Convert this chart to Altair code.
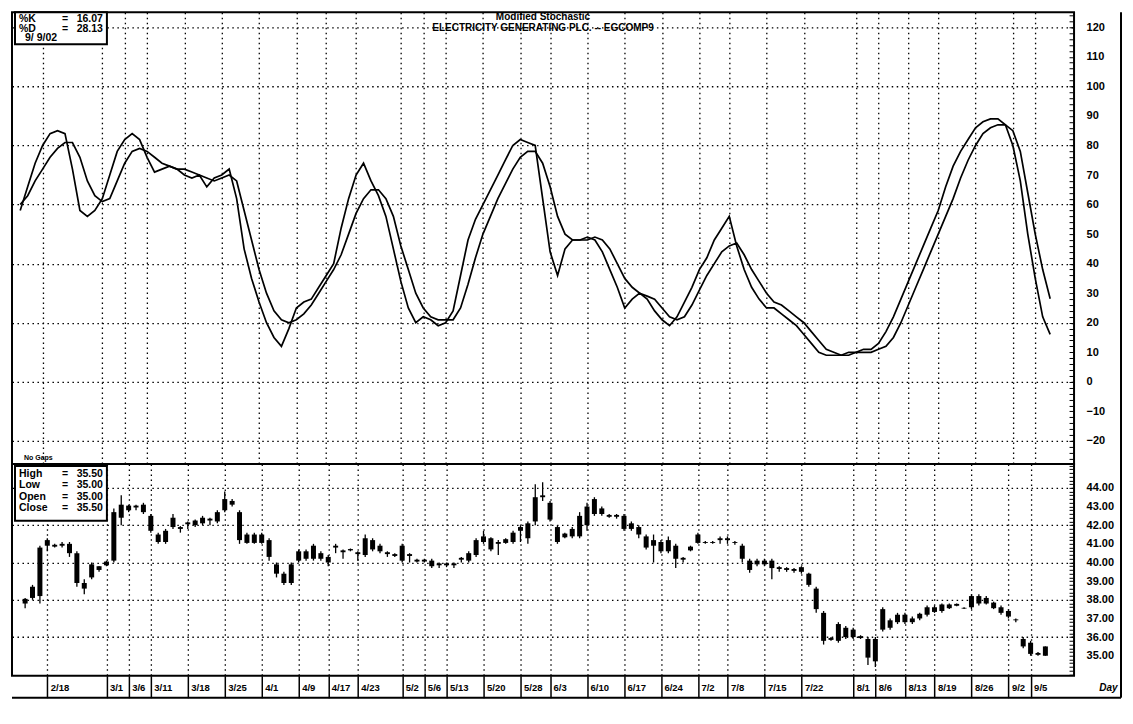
import altair as alt
import pandas as pd

# ---------------- data ----------------
label_dates = ["2/18", "3/1", "3/6", "3/11", "3/18", "3/25", "4/1", "4/9", "4/17", "4/23",
               "5/2", "5/6", "5/13", "5/20", "5/28", "6/3", "6/10", "6/17", "6/24", "7/2",
               "7/8", "7/15", "7/22", "8/1", "8/6", "8/13", "8/19", "8/26", "9/2", "9/5"]
label_pos = [3, 11, 14, 17, 22, 27, 32, 37, 41, 45,
             51, 54, 57, 62, 67, 71, 76, 81, 86, 91,
             95, 100, 105, 112, 115, 119, 123, 128, 133, 136]

k_vals = [58, 66, 74, 80, 84, 85, 84, 72, 58, 56,
          58, 62, 70, 78, 82, 84, 82, 76, 71, 72,
          73, 72, 70, 69, 70, 66, 69, 70, 72, 62,
          45, 35, 27, 20, 15, 12, 18, 25, 27, 28,
          32, 36, 40, 52, 62, 70, 74, 68, 63, 56,
          45, 34, 25, 20, 22, 21, 19, 20, 24, 36,
          48, 55, 60, 65, 70, 75, 80, 82, 81, 80,
          62, 44, 36, 45, 48, 48, 49, 48, 44, 38,
          32, 25, 28, 30, 28, 24, 21, 19, 22, 27,
          32, 38, 42, 48, 52, 56, 46, 38, 32, 28,
          25, 25, 23, 21, 19, 16, 13, 10, 9, 9,
          9, 10, 10, 11, 11, 13, 17, 22, 28, 34,
          40, 46, 52, 58, 66, 73, 78, 82, 86, 88,
          89, 89, 87, 80, 68, 50, 35, 22, 16.07]

d_vals = [60, 63, 68, 72, 76, 79, 81, 81, 76, 68,
          63, 61, 62, 68, 74, 78, 79, 78, 76, 74,
          73, 72, 72, 71, 70, 69, 68, 69, 70, 68,
          58, 48, 38, 30, 24, 21, 20, 21, 23, 26,
          30, 34, 38, 43, 50, 57, 62, 65, 65, 62,
          56, 46, 38, 30, 25, 22, 21, 21, 21, 25,
          33, 42, 50, 56, 62, 67, 72, 76, 78, 78,
          74, 66, 56, 50, 48, 48, 48, 49, 48, 45,
          40, 35, 32, 30, 29, 28, 25, 22, 21, 22,
          26, 31, 36, 40, 44, 46, 47, 43, 38, 34,
          30, 27, 26, 24, 22, 20, 17, 14, 11, 10,
          9, 9, 10, 10, 10, 11, 12, 15, 20, 26,
          32, 38, 44, 50, 56, 62, 69, 75, 80, 84,
          86, 87, 87, 85, 78, 64, 50, 38, 28.13]

high = [38.1, 38.8, 40.9, 41.3, 41.0, 41.1, 41.1, 40.6, 39.1, 40.0,
        39.8, 40.1, 42.9, 43.6, 43.1, 43.1, 43.2, 42.6, 41.6, 41.8,
        42.6, 41.95, 42.2, 42.3, 42.5, 42.4, 42.8, 43.8, 43.4, 42.8,
        41.6, 41.6, 41.6, 41.3, 40.0, 39.5, 40.0, 40.7, 40.7, 41.0,
        40.6, 40.4, 41.0, 40.7, 40.75, 40.6, 41.5, 41.3, 41.0, 40.6,
        40.5, 41.0, 40.5, 40.2, 40.2, 40.2, 40.0, 40.0, 40.0, 40.3,
        40.6, 41.3, 41.7, 41.35, 41.2, 41.3, 41.7, 42.0, 42.2, 44.2,
        44.3, 43.3, 42.0, 41.6, 41.9, 42.7, 43.2, 43.5, 43.0, 42.6,
        42.6, 42.6, 42.2, 42.0, 41.5, 41.5, 41.2, 41.4, 41.0, 40.3,
        40.9, 41.6, 41.15, 41.15, 41.4, 41.4, 41.15, 41.0, 40.2, 40.2,
        40.2, 40.2, 39.8, 39.75, 39.7, 39.8, 39.45, 38.7, 37.4, 36.0,
        36.8, 36.6, 36.5, 36.1, 36.0, 36.0, 37.6, 37.0, 37.3, 37.3,
        37.1, 37.3, 37.7, 37.7, 37.8, 37.8, 37.8, 37.6, 38.3, 38.3,
        38.2, 37.9, 37.7, 37.5, 37.0, 36.0, 35.8, 35.2, 35.5]

low = [37.55, 38.0, 37.8, 40.6, 40.8, 40.8, 40.3, 38.7, 38.3, 39.1,
       39.5, 39.8, 40.0, 42.0, 42.7, 42.8, 42.6, 41.6, 41.0, 41.0,
       41.8, 41.6, 41.8, 41.9, 42.0, 42.0, 42.1, 42.7, 43.0, 41.0,
       41.0, 41.0, 41.0, 40.1, 39.2, 38.8, 38.8, 40.0, 40.1, 40.1,
       40.1, 39.8, 40.5, 40.2, 40.6, 40.1, 40.3, 40.6, 40.5, 40.3,
       40.3, 40.0, 40.0, 40.0, 40.0, 39.7, 39.7, 39.75, 39.7, 40.0,
       40.0, 40.3, 41.0, 40.6, 40.4, 41.0, 41.0, 41.1, 41.0, 42.0,
       43.3, 42.2, 41.0, 41.3, 41.3, 41.3, 41.7, 42.5, 42.5, 42.4,
       42.35, 41.7, 41.7, 41.3, 40.7, 40.0, 40.5, 40.5, 39.7, 40.0,
       40.6, 41.0, 41.0, 41.0, 41.0, 41.0, 40.95, 40.0, 39.45, 39.8,
       39.8, 39.1, 39.5, 39.5, 39.45, 39.4, 38.7, 37.3, 35.6, 35.8,
       35.7, 35.9, 35.9, 35.9, 34.5, 34.4, 36.3, 36.4, 36.7, 36.7,
       36.7, 36.9, 37.1, 37.3, 37.3, 37.5, 37.65, 37.5, 37.5, 37.7,
       37.75, 37.5, 37.2, 37.0, 36.8, 35.4, 35.0, 35.0, 35.0]

open_ = [38.05, 38.1, 38.2, 41.2, 40.95, 41.0, 41.0, 40.5, 38.6, 39.2,
         39.6, 39.85, 40.1, 42.4, 42.8, 43.05, 42.7, 42.5, 41.5, 41.1,
         41.9, 41.9, 42.15, 42.0, 42.1, 42.35, 42.2, 42.8, 43.3, 42.7,
         41.5, 41.05, 41.5, 41.2, 39.9, 39.4, 38.9, 40.1, 40.6, 40.2,
         40.5, 40.3, 40.9, 40.65, 40.72, 40.55, 40.4, 41.2, 40.9, 40.55,
         40.45, 40.9, 40.45, 40.15, 40.05, 40.1, 39.95, 39.95, 39.95, 40.25,
         40.1, 40.4, 41.4, 41.3, 41.1, 41.05, 41.1, 41.7, 41.3, 42.2,
         43.6, 43.2, 41.9, 41.35, 41.4, 41.4, 42.0, 43.4, 42.9, 42.55,
         42.55, 42.5, 42.1, 41.9, 41.4, 41.2, 41.1, 40.6, 40.9, 40.25,
         40.65, 41.05, 41.1, 41.1, 41.3, 41.3, 41.1, 40.9, 40.1, 40.1,
         39.9, 40.1, 39.75, 39.7, 39.65, 39.75, 39.4, 38.6, 37.3, 35.95,
         35.8, 36.5, 36.0, 36.05, 35.9, 34.7, 36.4, 36.9, 36.8, 37.2,
         37.0, 37.0, 37.2, 37.6, 37.4, 37.55, 37.68, 37.53, 37.6, 38.2,
         37.8, 37.85, 37.6, 37.4, 36.95, 35.9, 35.7, 35.15, 35.0]

close = [37.8, 38.7, 40.8, 40.9, 40.85, 40.9, 40.5, 38.9, 38.9, 39.9,
         39.8, 40.05, 42.7, 43.1, 43.05, 42.95, 43.1, 41.7, 41.1, 41.7,
         42.4, 41.8, 42.05, 42.25, 42.4, 42.25, 42.7, 43.4, 43.1, 41.2,
         41.05, 41.5, 41.05, 40.3, 39.4, 38.9, 39.9, 40.6, 40.2, 40.9,
         40.2, 40.0, 40.8, 40.55, 40.65, 40.45, 41.3, 40.7, 40.6, 40.45,
         40.35, 40.1, 40.35, 40.05, 40.15, 39.8, 39.85, 39.85, 39.85, 40.15,
         40.5, 41.2, 41.1, 40.7, 41.0, 41.25, 41.6, 41.9, 42.1, 43.5,
         43.5, 42.3, 41.1, 41.55, 41.8, 42.5, 43.0, 42.6, 42.6, 42.45,
         42.45, 41.8, 41.8, 41.5, 40.8, 40.9, 40.6, 41.2, 40.2, 40.15,
         40.85, 41.5, 41.05, 41.05, 41.2, 41.2, 41.05, 40.2, 39.6, 39.9,
         40.1, 39.7, 39.65, 39.6, 39.55, 39.5, 38.8, 37.5, 35.8, 35.85,
         36.7, 36.0, 36.4, 35.95, 34.9, 35.9, 37.5, 36.5, 37.2, 36.8,
         36.8, 37.25, 37.6, 37.35, 37.75, 37.75, 37.78, 37.57, 38.2, 37.8,
         38.1, 37.55, 37.3, 37.1, 36.9, 35.5, 35.1, 35.05, 35.5]

title_lines = ["Modified Stochastic", "ELECTRICITY GENERATING PLC. -- EGCOMP9"]
last_date = "9/ 9/02"

# ---------------- chart ----------------
n = len(k_vals)
df = pd.DataFrame({"i": list(range(n)), "k": k_vals, "d": d_vals,
                   "high": high, "low": low, "open": open_, "close": close})

W = 1063
H_TOP = 452
H_BOT = 212
FONT = "Liberation Sans"
DASH = [1.5, 3.5]

x_scale = alt.Scale(domain=[-1.10, 141.2], nice=False, zero=False)
top_scale = alt.Scale(domain=[-27.78, 125.07], nice=False, zero=False)
bot_scale = alt.Scale(domain=[33.93, 45.286], nice=False, zero=False)

date_expr = "".join(f"datum.value == {p} ? '{d}' : " for p, d in zip(label_pos, label_dates)) + "''"

grid_kw = dict(grid=True, gridDash=DASH, gridColor="black", gridWidth=1.3, gridOpacity=1)

x_top = alt.X("i:Q", scale=x_scale, title=None,
              axis=alt.Axis(values=label_pos, labels=False, ticks=False, domain=False, **grid_kw))

x_bot = alt.X("i:Q", scale=x_scale, title="Day",
              axis=alt.Axis(values=label_pos, labelExpr=date_expr, labelAlign="left",
                            labelBaseline="middle", labelOffset=3, labelPadding=-10,
                            labelFont=FONT, labelFontWeight="bold", labelFontSize=9.5,
                            labelColor="black", labelOverlap=False, labelFlush=False,
                            ticks=True, tickSize=22, tickColor="black", tickWidth=1.5,
                            domain=False, titleX=1106, titleY=12, titleAlign="right",
                            titleBaseline="middle", titleFont=FONT, titleFontStyle="italic",
                            titleFontWeight="bold", titleFontSize=10, titleColor="black",
                            **grid_kw))

right_axis_common = dict(orient="right", tickSize=4, offset=-5, domain=False, grid=False,
                         tickColor="black", tickWidth=1, labelPadding=13, labelFont=FONT,
                         labelFontSize=11, labelFontWeight="bold", labelColor="black",
                         labelBaseline="middle", labelOverlap=False)

y_top_right = alt.Y("k:Q", scale=top_scale, title=None,
                    axis=alt.Axis(values=list(range(-26, 125, 2)),
                                  labelExpr="datum.value % 10 == 0 ? datum.label : ''",
                                  **right_axis_common))
y_top_grid = alt.Y("d:Q", scale=top_scale, title=None,
                   axis=alt.Axis(orient="left", values=[-20, 0, 20, 40, 60, 80, 100, 120],
                                 labels=False, ticks=False, domain=False, **grid_kw))

bot_ticks = [round(34.0 + 0.2 * j, 1) for j in range(57)]
y_bot_right = alt.Y("low:Q", scale=bot_scale, title=None,
                    axis=alt.Axis(values=bot_ticks, format=".2f",
                                  labelExpr="abs(datum.value - round(datum.value)) < 0.05 && datum.value >= 35 && datum.value <= 44 ? datum.label : ''",
                                  **right_axis_common))
y_bot_grid = alt.Y("open:Q", scale=bot_scale, title=None,
                   axis=alt.Axis(orient="left", values=[36, 38, 40, 42, 44],
                                 labels=False, ticks=False, domain=False, **grid_kw))

base = alt.Chart(df)
one = pd.DataFrame({"a": [0]})

line_d = base.mark_line(color="black", strokeWidth=1.7).encode(x=x_top, y=y_top_grid)
line_k = base.mark_line(color="black", strokeWidth=1.7).encode(x=x_top, y=y_top_right)

txt = dict(font=FONT, fontWeight="bold", fontSize=10.5, color="black", baseline="top", lineHeight=10)

top_box = alt.Chart(one).mark_rect(fill="white", stroke="black", strokeWidth=2).encode(
    x=alt.value(3), x2=alt.value(95), y=alt.value(0), y2=alt.value(32))
top_names = alt.Chart(one).mark_text(text=["%K", "%D"], align="left", **txt).encode(
    x=alt.value(7), y=alt.value(2))
top_eq = alt.Chart(one).mark_text(text=["=", "="], align="left", **txt).encode(
    x=alt.value(50), y=alt.value(2))
top_vals = alt.Chart(one).mark_text(text=[f"{k_vals[-1]:.2f}", f"{d_vals[-1]:.2f}"],
                                    align="right", **txt).encode(
    x=alt.value(91), y=alt.value(2))
top_date = alt.Chart(one).mark_text(text=last_date, align="left", **txt).encode(
    x=alt.value(13), y=alt.value(21))
no_gaps = alt.Chart(one).mark_text(text="No Gaps", align="left", font=FONT, fontWeight="bold",
                                   fontSize=7, color="black", baseline="middle").encode(
    x=alt.value(12), y=alt.value(446))
top_right_border = alt.Chart(one).mark_rule(color="black", strokeWidth=2).encode(
    x=alt.value(1110), y=alt.value(0), y2=alt.value(H_TOP))

top = alt.layer(line_d, line_k, top_box, top_names, top_eq, top_vals, top_date, no_gaps,
                top_right_border).resolve_axis(y="independent").properties(
    width=W, height=H_TOP,
    title=alt.TitleParams(text=title_lines, anchor="middle", offset=-24, fontSize=10, font=FONT,
                          fontWeight="bold", lineHeight=11, color="black"))

wick = base.mark_rule(color="black", strokeWidth=1.3).encode(x=x_bot, y=y_bot_right, y2="high:Q")
body = base.mark_bar(color="black", size=5).encode(x=x_bot, y=y_bot_grid, y2="close:Q")

ohlc_txt = dict(font=FONT, fontWeight="bold", fontSize=10.5, color="black", baseline="top", lineHeight=11.5)
bot_box = alt.Chart(one).mark_rect(fill="white", stroke="black", strokeWidth=2).encode(
    x=alt.value(3), x2=alt.value(95), y=alt.value(2), y2=alt.value(57))
bot_names = alt.Chart(one).mark_text(text=["High", "Low", "Open", "Close"], align="left", **ohlc_txt).encode(
    x=alt.value(7), y=alt.value(5))
bot_eq = alt.Chart(one).mark_text(text=["=", "=", "=", "="], align="left", **ohlc_txt).encode(
    x=alt.value(50), y=alt.value(5))
bot_vals = alt.Chart(one).mark_text(
    text=[f"{high[-1]:.2f}", f"{low[-1]:.2f}", f"{open_[-1]:.2f}", f"{close[-1]:.2f}"],
    align="right", **ohlc_txt).encode(x=alt.value(91), y=alt.value(5))
bot_right_border = alt.Chart(one).mark_rule(color="black", strokeWidth=2).encode(
    x=alt.value(1110), y=alt.value(0), y2=alt.value(H_BOT + 22))
date_row_bottom = alt.Chart(one).mark_rule(color="black", strokeWidth=2).encode(
    x=alt.value(0), x2=alt.value(1110), y=alt.value(H_BOT + 22))

bottom = alt.layer(wick, body, bot_box, bot_names, bot_eq, bot_vals,
                   bot_right_border, date_row_bottom).resolve_axis(
    y="independent").properties(width=W, height=H_BOT)

chart = alt.vconcat(top, bottom, spacing=0, bounds="flush").properties(
    padding={"left": 2, "top": 0, "right": 2, "bottom": 0},
    background="white",
).configure_view(stroke="black", strokeWidth=2)

chart.save("out.html", embed_options={"renderer": "svg", "actions": False})
